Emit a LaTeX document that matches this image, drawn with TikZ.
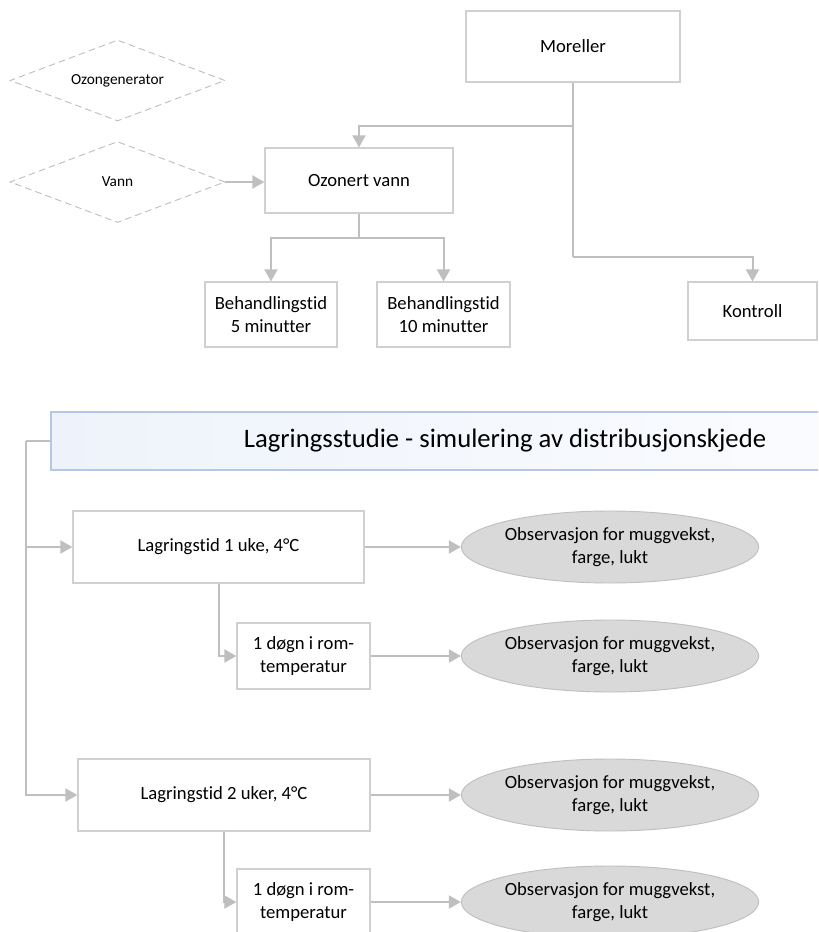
\documentclass[tikz,border=0pt]{standalone}
\usepackage{fontspec}
\setmainfont{Carlito}[Ligatures={NoCommon,NoContextual}]
\usetikzlibrary{arrows.meta,shapes.geometric}
\definecolor{boxgray}{RGB}{208,208,208}
\definecolor{linegray}{RGB}{191,191,191}
\definecolor{ellfill}{RGB}{217,217,217}
\definecolor{hdrborder}{RGB}{180,199,231}
\definecolor{hdrleft}{RGB}{238,243,251}
\definecolor{hdrright}{RGB}{252,253,255}
\begin{document}
\begin{tikzpicture}[x=0.75pt,y=-0.75pt,
  txt/.style={font=\fontsize{14}{17.25}\selectfont},
  bx/.style 2 args={draw=boxgray, line width=0.9pt, fill=white, align=center, txt, inner sep=0pt,
     minimum width=#1*0.75pt, minimum height=#2*0.75pt},
  dia/.style={diamond, draw=linegray, dash pattern=on 5pt off 3pt, line width=0.7pt,
     shape aspect=2.65, minimum width=161.25pt, minimum height=60.75pt, inner sep=0pt,
     font=\fontsize{11.5}{14}\selectfont},
  ell/.style={ellipse, draw=linegray, line width=0.7pt, fill=ellfill, minimum width=201pt,
     minimum height=54pt, inner sep=0pt, align=center, txt},
  hdr/.style={draw=hdrborder, line width=0.9pt, left color=hdrleft, right color=hdrright,
     minimum width=681pt, minimum height=43.5pt, inner sep=0pt, font=\fontsize{20}{24}\selectfont},
  plain/.style={draw=linegray, line width=1.5pt},
  conn/.style={plain, -{Triangle[length=9pt,width=9.75pt]}}
]
\useasboundingbox (0,0) rectangle (818,932);
\clip (0,0) rectangle (818,932);

% top part
\node[dia] (Ozongen) at (117.5,80.5) {Ozongenerator};
\node[dia] (Vann) at (117.5,182) {Vann};
\node[bx={214}{71}] (Moreller) at (573,46.5) {Moreller};
\node[bx={188}{65}] (Ozonert) at (359,180.5) {Ozonert vann};
\node[bx={132}{65}] (B5) at (271,314.5) {Behandlingstid\\5 minutter};
\node[bx={133}{65}] (B10) at (443.5,314.5) {Behandlingstid\\10 minutter};
\node[bx={129}{58}] (Kontroll) at (752.5,311) {Kontroll};

\draw[plain] (Moreller.south) -- ++(0,43) coordinate (m1);
\draw[conn] (m1) -| (Ozonert.north);
\draw[plain] (m1) -- (m1 |- 0,257) coordinate (m2);
\draw[conn] (m2) -| (Kontroll.north);
\draw[conn] (Vann.east) -- (Vann.east -| Ozonert.west);
\draw[plain] (Ozonert.south) -- ++(0,24) coordinate (o1);
\draw[conn] (o1) -| (B5.north);
\draw[conn] (o1) -| (B10.north);

% bottom part
\node[hdr] (Header) at (505,441) {Lagringsstudie - simulering av distribusjonskjede};
\node[bx={291}{72}] (L1) at (218.5,547) {Lagringstid 1 uke, 4°C};
\node[bx={133}{66}] (D1) at (303.5,656) {1 døgn i rom-\\temperatur};
\node[bx={292}{72}] (L2) at (224,795) {Lagringstid 2 uker, 4°C};
\node[bx={133}{66}] (D2) at (303.5,902) {1 døgn i rom-\\temperatur};
\node[ell] (E1) at (610,547) {Observasjon for muggvekst,\\farge, lukt};
\node[ell] (E2) at (610,656) {Observasjon for muggvekst,\\farge, lukt};
\node[ell] (E3) at (610,795) {Observasjon for muggvekst,\\farge, lukt};
\node[ell] (E4) at (610,902) {Observasjon for muggvekst,\\farge, lukt};

\draw[plain] (Header.west) -- ++(-24,0) coordinate (h1);
\draw[conn] (h1) |- (L1.west);
\draw[conn] (h1) |- (L2.west);
\draw[conn] (L1.south) |- (D1.west);
\draw[conn] (L2.south) |- (D2.west);
\draw[conn] (L1.east) -- (E1.west);
\draw[conn] (D1.east) -- (E2.west);
\draw[conn] (L2.east) -- (E3.west);
\draw[conn] (D2.east) -- (E4.west);
\end{tikzpicture}
\end{document}
